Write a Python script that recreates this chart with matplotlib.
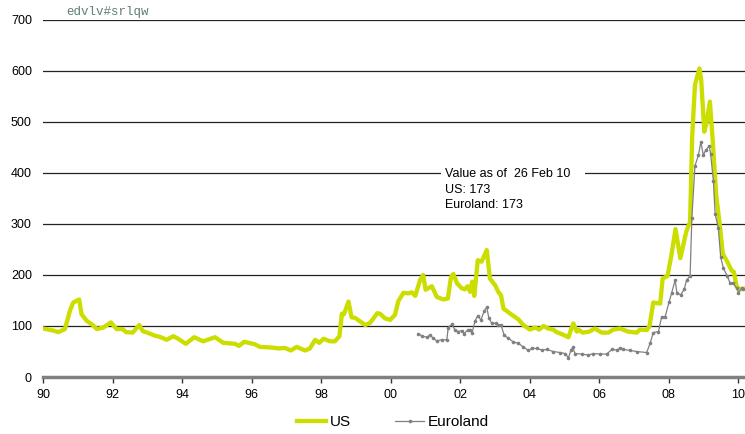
import matplotlib
matplotlib.use("Agg")
import matplotlib.pyplot as plt
from matplotlib.lines import Line2D

plt.rcParams['font.family'] = ['Liberation Sans', 'DejaVu Sans']

us_years = [1990.01, 1990.30, 1990.44, 1990.63, 1990.78, 1990.87, 1991.04, 1991.11, 1991.26, 1991.43,
            1991.55, 1991.74, 1991.95, 1992.12, 1992.29, 1992.39, 1992.58, 1992.77, 1992.87, 1993.08,
            1993.22, 1993.35, 1993.56, 1993.75, 1993.89, 1994.11, 1994.35, 1994.61, 1994.95, 1995.19,
            1995.53, 1995.64, 1995.79, 1996.10, 1996.24, 1996.53, 1996.68, 1996.77, 1996.96, 1997.13,
            1997.30, 1997.54, 1997.68, 1997.83, 1997.95, 1998.07, 1998.26, 1998.40, 1998.53, 1998.60,
            1998.66, 1998.79, 1998.88, 1998.98, 1999.27, 1999.41, 1999.62, 1999.70, 1999.84, 1999.99,
            2000.13, 2000.22, 2000.37, 2000.51, 2000.61, 2000.71, 2000.85, 2000.94, 2001.01, 2001.19,
            2001.33, 2001.52, 2001.65, 2001.74, 2001.81, 2001.91, 2002.05, 2002.14, 2002.22, 2002.29,
            2002.35, 2002.41, 2002.51, 2002.62, 2002.77, 2002.86, 2003.01, 2003.10, 2003.18, 2003.25,
            2003.49, 2003.68, 2003.82, 2004.01, 2004.16, 2004.28, 2004.40, 2004.54, 2004.68, 2004.78,
            2004.93, 2005.12, 2005.19, 2005.26, 2005.36, 2005.43, 2005.53, 2005.72, 2005.88, 2006.08,
            2006.27, 2006.41, 2006.60, 2006.84, 2007.08, 2007.18, 2007.37, 2007.45, 2007.56, 2007.76,
            2007.83, 2007.97, 2008.09, 2008.20, 2008.34, 2008.51, 2008.62, 2008.68, 2008.76, 2008.89,
            2008.94, 2009.03, 2009.09, 2009.19, 2009.27, 2009.37, 2009.48, 2009.56, 2009.69, 2009.82,
            2009.88, 2009.96, 2010.06, 2010.15]
us_values = [95, 91, 88, 94, 131, 146, 152, 123, 110, 102,
             94, 97, 107, 94, 94, 88, 87, 102, 90, 85,
             81, 79, 73, 80, 75, 65, 78, 70, 78, 67,
             65, 61, 69, 64, 59, 58, 57, 56, 57, 52,
             59, 52, 56, 73, 67, 75, 70, 70, 80, 124,
             123, 148, 117, 116, 102, 106, 125, 124, 115, 112,
             122, 148, 165, 164, 166, 159, 190, 200, 171, 178,
             157, 152, 154, 196, 202, 184, 174, 172, 178, 167,
             187, 159, 229, 226, 249, 193, 180, 167, 160, 134,
             122, 113, 102, 93, 97, 93, 100, 95, 93, 88,
             84, 78, 92, 105, 89, 92, 87, 89, 95, 87,
             87, 93, 95, 89, 87, 93, 92, 99, 146, 144,
             193, 198, 242, 290, 233, 285, 305, 471, 573, 605,
             582, 481, 497, 540, 465, 357, 295, 242, 226, 208,
             206, 177, 172, 173]

eu_years = [2000.80, 2000.92, 2001.04, 2001.14, 2001.23, 2001.33, 2001.47, 2001.62, 2001.66, 2001.76,
            2001.86, 2001.95, 2002.05, 2002.12, 2002.22, 2002.29, 2002.35, 2002.43, 2002.51, 2002.60,
            2002.70, 2002.77, 2002.83, 2002.91, 2003.03, 2003.10, 2003.18, 2003.27, 2003.39, 2003.53,
            2003.68, 2003.82, 2003.97, 2004.06, 2004.21, 2004.35, 2004.50, 2004.68, 2004.88, 2005.02,
            2005.12, 2005.19, 2005.24, 2005.31, 2005.50, 2005.69, 2005.84, 2006.03, 2006.22, 2006.37,
            2006.51, 2006.60, 2006.70, 2006.90, 2007.08, 2007.37, 2007.47, 2007.56, 2007.71, 2007.80,
            2007.90, 2008.02, 2008.09, 2008.19, 2008.24, 2008.35, 2008.45, 2008.52, 2008.62, 2008.67,
            2008.76, 2008.86, 2008.93, 2009.00, 2009.07, 2009.17, 2009.21, 2009.29, 2009.34, 2009.43,
            2009.50, 2009.58, 2009.69, 2009.77, 2009.86, 2009.96, 2010.01, 2010.11, 2010.15]
eu_values = [85, 80, 78, 82, 76, 71, 73, 73, 97, 103,
             92, 89, 91, 85, 92, 93, 87, 110, 120, 112,
             130, 137, 115, 106, 105, 102, 102, 82, 76, 69,
             66, 59, 52, 56, 56, 53, 54, 50, 48, 46,
             38, 52, 58, 46, 45, 43, 46, 45, 45, 54,
             53, 56, 54, 52, 50, 48, 66, 87, 89, 118,
             118, 148, 165, 190, 165, 161, 172, 190, 198, 311,
             414, 435, 461, 435, 445, 453, 438, 385, 320, 293,
             235, 213, 198, 184, 184, 174, 165, 174, 173]

year_ticks = list(range(1990, 2011, 2))
year_labels = ['90', '92', '94', '96', '98', '00', '02', '04', '06', '08', '10']
y_ticks = [0, 100, 200, 300, 400, 500, 600, 700]

us_color = '#CCDD00'
eu_color = '#808080'

fig = plt.figure(figsize=(7.45, 4.34), dpi=100)
ax = fig.add_axes([43/745, 1-377/434, 1-43/745, (377-20)/434])

ax.set_xlim(1990, 2010.2)
ax.set_ylim(0, 700)

for v in y_ticks[1:]:
    ax.axhline(v, color='#222222', lw=0.9, zorder=1)

ax.plot(us_years, us_values, color=us_color, lw=3.1, zorder=3, solid_joinstyle='round')
ax.plot(eu_years, eu_values, color=eu_color, lw=0.9, marker='o', markersize=2.6,
        markeredgewidth=0, zorder=4)

for s in ['left', 'top', 'right']:
    ax.spines[s].set_visible(False)
ax.spines['bottom'].set_color('#808080')
ax.spines['bottom'].set_linewidth(2.5)

ax.set_xticks(year_ticks)
ax.set_xticklabels(year_labels, fontsize=9)
ax.set_yticks(y_ticks)
ax.set_yticklabels([str(v) for v in y_ticks], fontsize=9)
ax.tick_params(axis='y', length=0, pad=8)
ax.tick_params(axis='x', direction='out', length=4, width=1, color='#333333', pad=5)

ax.text(2001.57, 410, 'Value as of  26 Feb 10   \nUS: 173\nEuroland: 173',
        fontsize=9, va='top', ha='left', linespacing=1.42, zorder=5,
        bbox=dict(facecolor='white', edgecolor='none', pad=3))

fig.text(66/745, 1-12/434, 'edvlv#srlqw', fontsize=9, color='#5f7f78',
         family=['Liberation Mono', 'DejaVu Sans Mono'], va='center', ha='left')

handles = [Line2D([], [], color=us_color, lw=3.1),
           Line2D([], [], color=eu_color, lw=0.9, marker='o', markersize=2.6, markeredgewidth=0)]
fig.legend(handles, ['US', 'Euroland'], loc='center', bbox_to_anchor=(393/745, 1-422/434),
           ncol=2, frameon=False, fontsize=11, handlelength=1.9, columnspacing=2.9,
           handletextpad=0.25)

fig.savefig('out.png', dpi=100)
